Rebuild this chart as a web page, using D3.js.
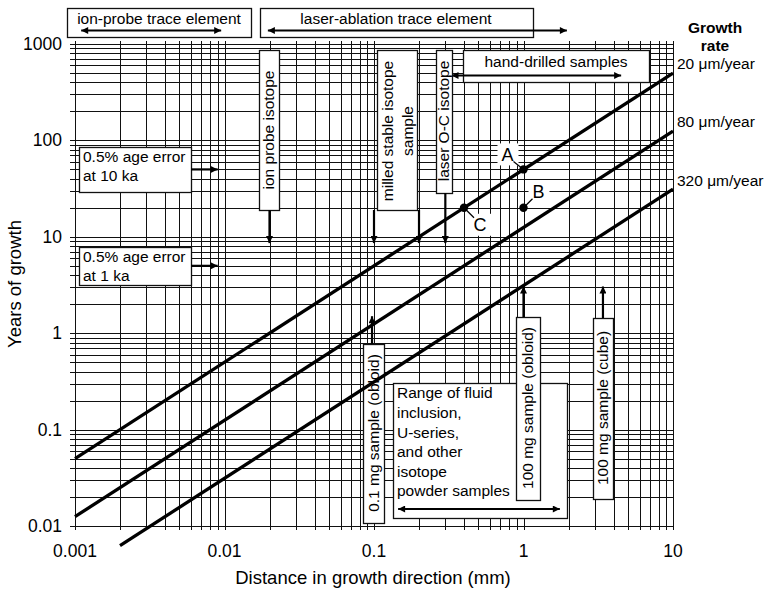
<!DOCTYPE html>
<html>
<head>
<meta charset="utf-8">
<script src="https://cdn.jsdelivr.net/npm/d3@7"></script>
<style>
  body { margin: 0; background: #fff; }
  svg { font-family: "Liberation Sans", Arial, sans-serif; }
</style>
</head>
<body>
<svg id="chart" width="767" height="592"></svg>
<script>
// growth-rate lines (years = mm * 1000 / rate)
const growthRates = [20, 80, 320];            // µm/year
const lineStart = [0.001, 0.001, 0.002];      // mm
const lineEnd = [10, 10, 10];                 // mm
const rateLabels = ["20 μm/year", "80 μm/year", "320 μm/year"];

// labelled samples
const pointNames = ["A", "B", "C"];
const pointDist = [1, 1, 0.4];                // mm
const pointYears = [50, 20, 20];

// tick labels
const xTicks = [0.001, 0.01, 0.1, 1, 10];
const yTicks = [0.01, 0.1, 1, 10, 100, 1000];
const tickFmt = d => String(d);

document.addEventListener('DOMContentLoaded', function () {
    const svg = d3.select('#chart');

    const left = 75, right = 673, top = 44, bottom = 526;

    const x = d3.scaleLog().domain([0.001, 10]).range([left, right]);
    const y = d3.scaleLog().domain([0.01, 1000]).range([bottom, top]);

    // arrow heads
    const defs = svg.append("defs");
    defs.append("marker")
        .attr("id", "head")
        .attr("viewBox", "0 0 10 10")
        .attr("refX", 10).attr("refY", 5)
        .attr("markerWidth", 10).attr("markerHeight", 7)
        .attr("markerUnits", "userSpaceOnUse")
        .attr("orient", "auto-start-reverse")
        .append("path")
        .attr("d", "M0,0 L10,5 L0,10 Z")
        .attr("fill", "#000");

    // grid (every minor log tick)
    const grid = svg.append("g")
        .attr("stroke", "#111")
        .attr("stroke-width", 1)
        .attr("shape-rendering", "crispEdges");

    grid.selectAll(".vx")
        .data(x.ticks())
        .enter().append("line")
        .attr("x1", d => Math.round(x(d)) + 0.5)
        .attr("x2", d => Math.round(x(d)) + 0.5)
        .attr("y1", top - 3)
        .attr("y2", bottom + 4);

    grid.selectAll(".hy")
        .data(y.ticks())
        .enter().append("line")
        .attr("x1", left - 5)
        .attr("x2", right)
        .attr("y1", d => Math.round(y(d)) + 0.5)
        .attr("y2", d => Math.round(y(d)) + 0.5);

    // tick labels
    svg.append("g").selectAll("text")
        .data(xTicks)
        .enter().append("text")
        .attr("x", d => x(d))
        .attr("y", 557)
        .attr("text-anchor", "middle")
        .attr("font-size", 17.5)
        .text(tickFmt);

    svg.append("g").selectAll("text")
        .data(yTicks)
        .enter().append("text")
        .attr("x", 62)
        .attr("y", d => y(d) + 6)
        .attr("text-anchor", "end")
        .attr("font-size", 17.5)
        .text(tickFmt);

    // axis titles
    svg.append("text")
        .attr("x", 373)
        .attr("y", 584)
        .attr("text-anchor", "middle")
        .attr("font-size", 18.5)
        .text("Distance in growth direction (mm)");

    svg.append("text")
        .attr("transform", "translate(21,284) rotate(-90)")
        .attr("text-anchor", "middle")
        .attr("font-size", 18.5)
        .text("Years of growth");

    // --- annotation boxes ---
    function box(x0, y0, x1, y1) {
        svg.append("rect")
            .attr("x", x0 + 0.5).attr("y", y0 + 0.5)
            .attr("width", x1 - x0).attr("height", y1 - y0)
            .attr("fill", "#fff")
            .attr("stroke", "#111")
            .attr("stroke-width", 1.3);
    }
    function label(tx, ty, str, rotate) {
        svg.append("text")
            .attr("transform", `translate(${tx},${ty})` + (rotate ? " rotate(-90)" : ""))
            .attr("text-anchor", "middle")
            .attr("dy", "0.35em")
            .attr("font-size", 15.5)
            .text(str);
    }
    function arrow(x1, y1, x2, y2, both) {
        const a = svg.append("line")
            .attr("x1", x1).attr("y1", y1)
            .attr("x2", x2).attr("y2", y2)
            .attr("stroke", "#000")
            .attr("stroke-width", 2.2)
            .attr("marker-end", "url(#head)");
        if (both) a.attr("marker-start", "url(#head)");
    }

    // top range boxes
    box(67, 8, 251, 37);
    label(159, 19, "ion-probe trace element");
    arrow(x(0.0011), 30.5, x(0.0095), 30.5, true);

    box(260, 8, 533, 37);
    label(396, 19, "laser-ablation trace element");
    arrow(x(0.0195), 30.5, x(1.95), 30.5, true);

    box(463, 50, 649, 82);
    label(556, 62, "hand-drilled samples");
    arrow(x(0.33), 75.5, x(4.5), 75.5, true);

    // vertical boxes from top
    box(259, 50, 279, 210);
    label(269, 130, "ion probe isotope", true);
    arrow(x(0.02), 210, x(0.02), y(8.6));

    box(377, 50, 417, 210);
    label(388, 131, "milled stable isotope", true);
    label(408, 131, "sample", true);
    arrow(x(0.1), 210, x(0.1), y(8.6));
    arrow(x(0.2), 210, x(0.2), y(8.6));

    box(436, 50, 452, 193);
    label(444, 121, "laser O-C isotope", true);
    arrow(x(0.3), 193, x(0.3), y(8.6));

    // age error boxes
    box(79, 147, 191, 192);
    svg.append("text").attr("x", 83).attr("y", 157).attr("dy", "0.35em")
        .attr("font-size", 15.5).text("0.5% age error");
    svg.append("text").attr("x", 83).attr("y", 176).attr("dy", "0.35em")
        .attr("font-size", 15.5).text("at 10 ka");
    arrow(191, y(50), x(0.009), y(50));

    box(79, 247, 191, 285);
    svg.append("text").attr("x", 83).attr("y", 257).attr("dy", "0.35em")
        .attr("font-size", 15.5).text("0.5% age error");
    svg.append("text").attr("x", 83).attr("y", 276).attr("dy", "0.35em")
        .attr("font-size", 15.5).text("at 1 ka");
    arrow(191, y(5), x(0.009), y(5));

    // bottom boxes
    box(393, 383, 567, 518);
    const rangeLines = ["Range of fluid", "inclusion,", "U-series,", "and other", "isotope", "powder samples"];
    rangeLines.forEach(function (s, i) {
        svg.append("text").attr("x", 397).attr("y", 393 + i * 19.6).attr("dy", "0.35em")
            .attr("font-size", 15.5).text(s);
    });
    arrow(x(0.145), 509, x(1.75), 509, true);

    box(363, 344, 384, 523);
    label(373.5, 433, "0.1 mg sample (obloid)", true);
    arrow(x(0.097), 344, x(0.097), y(1.5));

    box(516, 317, 540, 500);
    label(528, 408, "100 mg sample (obloid)", true);
    arrow(x(1), 317, x(1), y(3.05));

    box(593, 318, 613, 499);
    label(603, 408, "100 mg sample (cube)", true);
    arrow(x(3.4), 318, x(3.4), y(3.05));

    // --- growth-rate lines ---
    const lineData = growthRates.map(function (r, i) {
        return [
            { d: lineStart[i], yr: lineStart[i] * 1000 / r },
            { d: lineEnd[i], yr: lineEnd[i] * 1000 / r }
        ];
    });
    const valueline = d3.line()
        .x(function (d) { return x(d.d); })
        .y(function (d) { return y(d.yr); });

    svg.selectAll(".rate")
        .data(lineData)
        .enter().append("path")
        .attr("class", "rate")
        .attr("d", valueline)
        .attr("fill", "none")
        .attr("stroke", "#000")
        .attr("stroke-width", 3.3);

    // rate labels
    svg.selectAll(".rlab")
        .data(growthRates)
        .enter().append("text")
        .attr("x", 677)
        .attr("y", function (r, i) { return y(lineEnd[i] * 1000 / r) - 9; })
        .attr("dy", "0.35em")
        .attr("font-size", 15.5)
        .text(function (r, i) { return rateLabels[i]; });

    svg.append("text").attr("x", 715).attr("y", 28).attr("dy", "0.35em")
        .attr("text-anchor", "middle").attr("font-size", 15.5).attr("font-weight", "bold")
        .text("Growth");
    svg.append("text").attr("x", 715).attr("y", 46).attr("dy", "0.35em")
        .attr("text-anchor", "middle").attr("font-size", 15.5).attr("font-weight", "bold")
        .text("rate");

    // --- A, B, C points ---
    const labelOff = [[-16, -15], [15, -16], [16, 17]];
    pointNames.forEach(function (n, i) {
        const px = x(pointDist[i]), py = y(pointYears[i]);
        const lx = px + labelOff[i][0], ly = py + labelOff[i][1];
        svg.append("rect")
            .attr("x", lx - 10).attr("y", ly - 11)
            .attr("width", 21).attr("height", 22)
            .attr("fill", "#fff");
        svg.append("line")
            .attr("x1", lx + (labelOff[i][0] < 0 ? 6 : -6))
            .attr("y1", ly + (labelOff[i][1] < 0 ? 7 : -7))
            .attr("x2", px).attr("y2", py)
            .attr("stroke", "#000").attr("stroke-width", 1.2);
        svg.append("text")
            .attr("x", lx).attr("y", ly).attr("dy", "0.36em")
            .attr("text-anchor", "middle")
            .attr("font-size", 18)
            .text(n);
        svg.append("circle")
            .attr("cx", px).attr("cy", py).attr("r", 4.2)
            .attr("fill", "#000");
    });
});
</script>
</body>
</html>
